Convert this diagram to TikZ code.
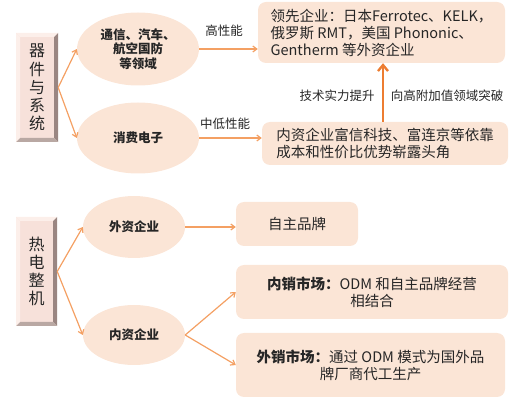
\documentclass[tikz,border=0pt]{standalone}
\usepackage{fontspec}
\setmainfont{Noto Sans CJK SC}
\usetikzlibrary{shapes.geometric,arrows.meta,calc}
\definecolor{peach}{HTML}{FBE5D6}
\definecolor{arr}{HTML}{F4A063}
\definecolor{arrdark}{HTML}{ED7D31}
\definecolor{bface}{HTML}{F7E1DA}
\definecolor{bdark}{HTML}{9A8682}
\definecolor{bmid}{HTML}{B9A8A3}
\definecolor{blight}{HTML}{FCEFEA}
\definecolor{txt}{HTML}{262626}
\tikzset{
  ell/.style={ellipse, fill=peach, draw=none, align=center, inner sep=0pt, text=txt, font=\bfseries\fontsize{12.5}{14.5}\selectfont},
  rbox/.style={rectangle, rounded corners=8pt, fill=peach, draw=none, inner sep=0pt, text=txt, font=\fontsize{14.5}{17}\selectfont},
  bevel/.style={rectangle, fill=bface, draw=none, inner sep=0pt, align=center, text=txt, font=\fontsize{16}{18.2}\selectfont},
  lab/.style={inner sep=0pt, text=txt, font=\fontsize{12.5}{14}\selectfont},
  con/.style={draw=arr, line width=1.2pt, -{Straight Barb[length=4pt,width=6pt]}},
}
\begin{document}
\begin{tikzpicture}[x=1pt,y=-1pt]
\useasboundingbox (0,0) rectangle (512,398);
% bevel boxes
\node[bevel, minimum width=42pt, minimum height=109pt] (sys) at (37,87.5) {器\\件\\与\\系\\统};
\fill[bdark] (58,33) -- (58,142) -- (54,138) -- (54,37) -- cycle;
\fill[bmid] (16,142) -- (58,142) -- (54,138) -- (20,138) -- cycle;
\fill[blight] (16,33) -- (58,33) -- (54,37) -- (20,37) -- cycle;
\fill[blight] (16,33) -- (16,142) -- (20,138) -- (20,37) -- cycle;
\node[bevel, minimum width=41pt, minimum height=109pt] (thm) at (36.5,271.5) {热\\电\\整\\机};
\fill[bdark] (57,217) -- (57,326) -- (53,322) -- (53,221) -- cycle;
\fill[bmid] (16,326) -- (57,326) -- (53,322) -- (20,322) -- cycle;
\fill[blight] (16,217) -- (57,217) -- (53,221) -- (20,221) -- cycle;
\fill[blight] (16,217) -- (16,326) -- (20,322) -- (20,221) -- cycle;
% ellipses
\node[ell, minimum width=122pt, minimum height=73pt] (e1) at (138,49) {通信、汽车、\\航空国防\\等领域};
\node[ell, minimum width=122pt, minimum height=71pt] (e2) at (138,138) {消费电子};
\node[ell, minimum width=102pt, minimum height=62pt] (e3) at (134,227) {外资企业};
\node[ell, minimum width=102pt, minimum height=60pt] (e4) at (134,335) {内资企业};
% right boxes
\node[rbox, minimum width=247pt, minimum height=61pt, align=left] (top) at (381.5,32.5) {领先企业：日本Ferrotec、KELK，\\俄罗斯 RMT，美国 Phononic、\\Gentherm 等外资企业};
\node[rbox, minimum width=246pt, minimum height=43pt, align=left] (mid) at (385,143.5) {内资企业富信科技、富连京等依靠\\成本和性价比优势崭露头角};
\node[rbox, minimum width=122pt, minimum height=44pt, align=center] (brand) at (297,224) {自主品牌};
\node[rbox, minimum width=272pt, minimum height=54pt, align=center] (inner) at (372,292) {\textbf{内销市场：}ODM 和自主品牌经营\\相结合};
\node[rbox, minimum width=269pt, minimum height=64pt, align=center] (outer) at (370.5,365) {\textbf{外销市场：}通过 ODM 模式为国外品\\牌厂商代工生产};
% labels
\node[lab] (l1) at (224,31) {高性能};
\node[lab] (l2) at (225,124) {中低性能};
\node[lab] (l3) at (337,96) {技术实力提升};
\node[lab] (l4) at (447,96) {向高附加值领域突破};
% connectors
\draw[con] (sys.east) -- (e1.west);
\draw[con] (sys.east) -- (e2.west);
\draw[con] (thm.east) -- (e3.west);
\draw[con] (thm.east) -- (e4.west);
\draw[con] (e1.east) -- (e1.east -| top.west);
\draw[con] (e2.east) -- (e2.east -| mid.west);
\draw[con] (e3.east) -- (e3.east -| brand.west);
\draw[con] (e4.east) -- (inner.west);
\draw[con] (e4.east) -- (outer.west);
\coordinate (vx) at (383,0);
\draw[draw=arrdark, line width=2.4pt, -{Straight Barb[length=6pt,width=10pt]}] (vx |- mid.north) -- (vx |- top.south);
\end{tikzpicture}
\end{document}
